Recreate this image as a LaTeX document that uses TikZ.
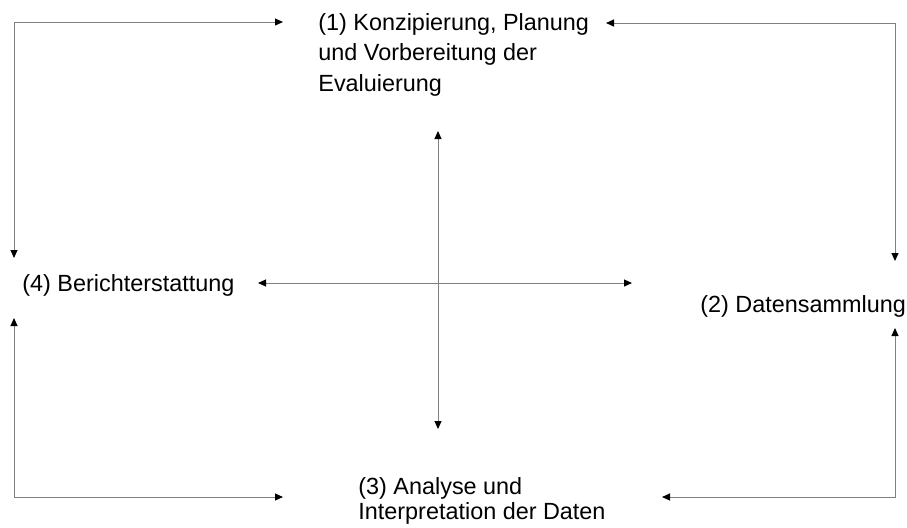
\documentclass[tikz,border=0pt]{standalone}
\usepackage{fontspec}
\setmainfont{Liberation Sans}
\usetikzlibrary{arrows.meta}

\begin{document}
\begin{tikzpicture}[
    x=0.5pt, y=-0.5pt, % one unit = one pixel of the sketch
    >={Triangle[length=4pt, width=3.5pt, color=black]},
    phase/.style={inner sep=0pt, align=left, font=\fontsize{11.7}{15.3}\selectfont},
    link/.style={draw=black!50, line width=0.5pt, <->}
]
\useasboundingbox (0,0) rectangle (907,527);

% Phases
\node[phase, anchor=north west] (planung) at (318,13) {(1) Konzipierung, Planung\\und Vorbereitung der\\Evaluierung};
\node[phase, anchor=base west] (daten) at (700,312) {(2) Datensammlung};
\node[phase, anchor=north west, font=\fontsize{11.7}{12.6}\selectfont] (analyse) at (358,477) {(3) Analyse und\\Interpretation der Daten};
\node[phase, anchor=base west] (bericht) at (22,291) {(4) Berichterstattung};

% Arrow ends around the phases
\coordinate (planungW) at (283,22);
\coordinate (planungE) at (606,23);
\coordinate (datenN) at (895,261);
\coordinate (datenS) at (895,328);
\coordinate (analyseE) at (662,497);
\coordinate (analyseW) at (283,497);
\coordinate (berichtS) at (14,318);
\coordinate (berichtN) at (14,258);

% Cross in the middle
\coordinate (crossN) at (438,131);
\coordinate (crossS) at (438,429);
\coordinate (crossW) at (258,283);
\coordinate (crossE) at (632,283);

% Cycle
\draw[link] (berichtN) |- (planungW);
\draw[link] (planungE) -| (datenN);
\draw[link] (datenS) |- (analyseE);
\draw[link] (berichtS) |- (analyseW);

\draw[link] (crossN) -- (crossS);
\draw[link] (crossW) -- (crossE);

\end{tikzpicture}
\end{document}
